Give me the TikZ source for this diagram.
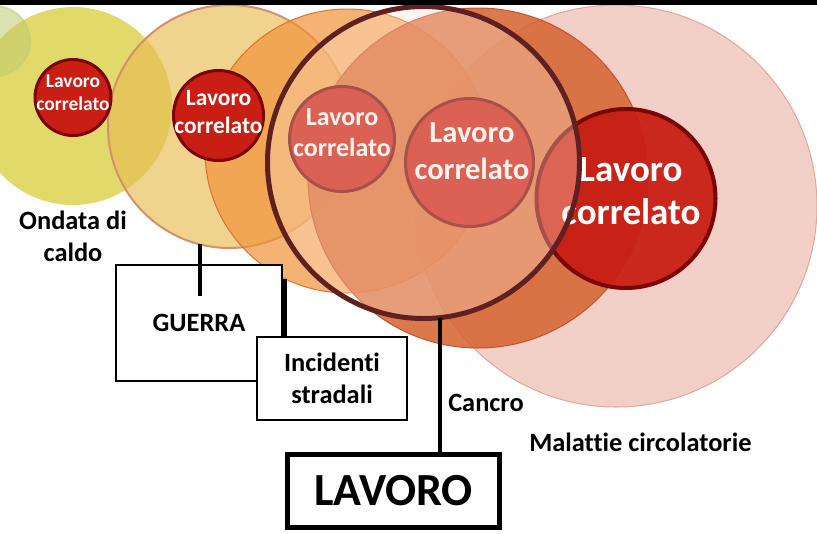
\documentclass[tikz,border=0pt]{standalone}
\usepackage{fontspec}
\setmainfont[Ligatures={NoCommon}]{Carlito}
\usepackage{tikz}

\definecolor{cGreen}{HTML}{C1CC6F}
\definecolor{cYellow}{HTML}{E2D96B}
\definecolor{cTan}{HTML}{E8BD51}
\definecolor{cTanLine}{HTML}{D4906E}
\definecolor{cOrange}{HTML}{F09238}
\definecolor{cOrangeLine}{HTML}{E07030}
\definecolor{cRust}{HTML}{D5622E}
\definecolor{cRustLine}{HTML}{C8502A}
\definecolor{cPink}{HTML}{F2D0C7}
\definecolor{cPinkLine}{HTML}{E3A594}
\definecolor{cRed}{HTML}{C81E14}
\definecolor{cRedLine}{HTML}{7A0505}
\definecolor{cPeach}{HTML}{FFE0CC}
\definecolor{cBrown}{HTML}{5E2020}

\begin{document}
\begin{tikzpicture}[x=0.75pt, y=-0.75pt,
	bubble/.style={shape=circle, inner sep=0pt, outer sep=0pt},
	core/.style={shape=circle, inner sep=0pt, fill=cRed, draw=cRedLine, line width=2.25pt},
	core text/.style={text=white, align=center, inner sep=0pt},
	box/.style={shape=rectangle, draw=black, fill=white, line width=1.75pt, inner sep=0pt, align=center, font=\fontsize{19.8}{23.8}\selectfont\bfseries},
	bigtext/.style={inner sep=0pt, align=center, font=\fontsize{19.8}{24}\selectfont\bfseries},
	link/.style={draw=black, line width=3pt}]
	\useasboundingbox (0,0) rectangle (817,533);

	\node[bubble, fill=cPink, draw=cPinkLine, line width=0.75pt, minimum size=301.5pt] (circ) at (616,206) {};
	\node[bubble, fill=cYellow, minimum size=148.5pt] (caldo) at (73,106) {};
	\node[bubble, fill=cGreen, draw=cGreen, line width=1.5pt, opacity=0.55, minimum size=52.5pt] (prima) at (-5,41) {};
	\node[bubble, fill=cTan, fill opacity=0.65, draw=cTanLine, line width=1.5pt, minimum size=182.25pt] (guerra) at (229.5,126.5) {};
	\node[bubble, fill=cOrange, fill opacity=0.7, draw=cOrangeLine, line width=0.75pt, minimum size=213pt] (strade) at (347,151) {};
	\node[bubble, fill=cRust, fill opacity=0.85, draw=cRustLine, line width=0.75pt, minimum size=255pt] (tumori) at (478,178) {};

	\node[core, line width=3pt, fill opacity=0.95, minimum size=134.25pt] (r5) at (626,198.5) {};
	\node[core text, font=\fontsize{27.75}{32.25}\selectfont\bfseries] (t5) at (631,191.6) {Lavoro\\correlato};
	\node[core, minimum size=57pt] (r1) at (73,97.5) {};
	\node[core text, font=\fontsize{14.6}{17.25}\selectfont\bfseries] (t1) at (73,92.7) {Lavoro\\correlato};
	\node[core, minimum size=67.5pt] (r2) at (218.5,115.5) {};
	\node[core text, font=\fontsize{17.6}{21}\selectfont\bfseries] (t2) at (218.5,112.4) {Lavoro\\correlato};
	\node[core, minimum size=78.75pt] (r3) at (342,139) {};
	\node[core text, font=\fontsize{19.5}{23.25}\selectfont\bfseries] (t3) at (342,133.1) {Lavoro\\correlato};
	\node[core, minimum size=96pt] (r4) at (469.5,162.5) {};
	\node[core text, font=\fontsize{22.9}{27.75}\selectfont\bfseries] (t4) at (472,151.7) {Lavoro\\correlato};

	\node[bubble, fill=cPeach, fill opacity=0.35, draw=cBrown, line width=3.75pt, minimum size=234pt] (cancro) at (423.5,162.5) {};

	\node[bigtext] (ondata) at (73,236.8) {Ondata di\\caldo};
	\node[bigtext, anchor=base west] (lcancro) at (448,411) {Cancro};
	\node[bigtext, anchor=base west] (lcirc) at (529,451) {Malattie circolatorie};

	\node[box, minimum width=124.5pt, minimum height=87pt] (bguerra) at (199,323) {GUERRA};
	\node[box, minimum width=112.5pt, minimum height=62.25pt] (bstrade) at (332,378.5) {Incidenti\\stradali};
	\node[box, line width=3.75pt, minimum width=159pt, minimum height=54.75pt, font=\fontsize{34.5}{41}\selectfont\bfseries] (blavoro) at (393.5,491) {LAVORO};

	\coordinate (gend) at (199,296);
	\path [link] (guerra.256) edge (guerra.256 |- gend);
	\path [link, line width=3.75pt] (strade.244) edge (strade.244 |- bstrade.north);
	\path [link, line width=3.25pt] (cancro.276) edge (cancro.276 |- blavoro.north);

	\fill[black] (0,0) rectangle (817,5);
\end{tikzpicture}
\end{document}
